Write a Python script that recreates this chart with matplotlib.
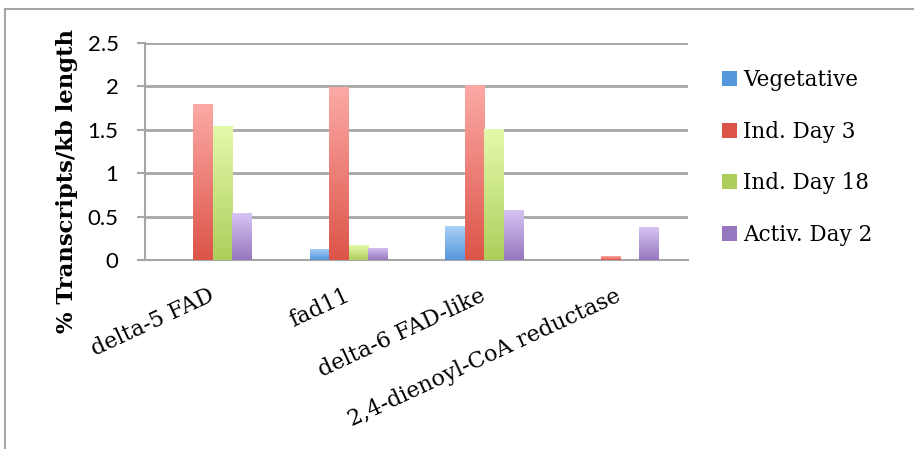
import numpy as np
import matplotlib
matplotlib.use('Agg')
from matplotlib import pyplot as plt
from matplotlib.lines import Line2D
from matplotlib.colors import LinearSegmentedColormap

# transcript levels per gene, one list per condition
genes = ['delta-5 FAD', 'fad11', 'delta-6 FAD-like', '2,4-dienoyl-CoA reductase']
vegetative = [0.005, 0.13, 0.39, 0.005]
ind_day3 = [1.80, 1.99, 2.02, 0.045]
ind_day18 = [1.55, 0.17, 1.51, 0.005]
activ_day2 = [0.54, 0.14, 0.575, 0.38]
series_names = ['Vegetative', 'Ind. Day 3', 'Ind. Day 18', 'Activ. Day 2']
yticks = [0, 0.5, 1, 1.5, 2, 2.5]
ytick_labels = ['0', '0.5', '1', '1.5', '2', '2.5']

# (top, bottom) colours of each bar gradient
shades = [('#a9d0f7', '#5596dc'),
          ('#fcaaa6', '#dc5448'),
          ('#e4faab', '#aece5c'),
          ('#d6c4f2', '#9677bf')]

serif = ['DejaVu Serif']
sans = ['Lato', 'DejaVu Sans']
grey = '#a6a6a6'

fig = plt.figure(figsize=(9.14, 4.49), dpi=100)
ax = fig.add_axes([0.1586, 0.421, 0.594, 0.483])

x = np.arange(len(genes))
w = 0.143
all_series = [vegetative, ind_day3, ind_day18, activ_day2]
for i, vals in enumerate(all_series):
    bars = ax.bar(x + (i - 1.5) * w, vals, w, color=shades[i][1],
                  label=series_names[i], zorder=3, linewidth=0)
    cmap = LinearSegmentedColormap.from_list('g%d' % i, [shades[i][1], shades[i][0]])
    grad = np.linspace(0, 1, 256).reshape(-1, 1)
    for b in bars:
        bx, by = b.get_x(), b.get_y()
        bw, bh = b.get_width(), b.get_height()
        # gradient spans the full bar so short bars keep the dark base
        im = ax.imshow(grad, cmap=cmap, origin='lower', aspect='auto',
                       extent=(bx, bx + bw, by, by + bh), zorder=4,
                       interpolation='bilinear')
        im.set_clip_path(b)

ax.set_xlim(-0.5, 3.5)
ax.set_ylim(0, 2.5)
ax.set_yticks(yticks)
ax.set_yticklabels(ytick_labels, family=sans, fontsize=16)
ax.yaxis.grid(True, color=grey, linewidth=2, zorder=0)
ax.set_axisbelow(True)
for s in ['top', 'right']:
    ax.spines[s].set_visible(False)
for s in ['left', 'bottom']:
    ax.spines[s].set_color(grey)
    ax.spines[s].set_linewidth(1.5)
ax.tick_params(axis='y', length=6, width=1.5, color=grey, pad=13)
ax.tick_params(axis='x', length=0, pad=25)

ax.set_xticks(x)
ax.set_xticklabels(genes, rotation=25, ha='right', va='center',
                   rotation_mode='anchor', family=serif, fontsize=16)

ax.set_ylabel('% Transcripts/kb length', family=serif, fontsize=16.4,
              fontweight='bold')
ax.yaxis.set_label_coords(-0.123, 0.364)

leg = ax.legend(loc='center left', bbox_to_anchor=(1.0626, 0.472), frameon=False,
                prop={'family': serif, 'size': 15.5}, handlelength=0.7,
                handleheight=0.7, handletextpad=0.3, labelspacing=1.38,
                borderpad=0, borderaxespad=0)
for i, h in enumerate(leg.legend_handles):
    h.set_color(shades[i][1])

# thin frame round the chart area
fig.add_artist(Line2D([0.0055, 1.0], [0.98, 0.98], color=grey, lw=1.5))
fig.add_artist(Line2D([0.0055, 0.0055], [0.0, 0.98], color=grey, lw=1.5))

fig.savefig('out.png', dpi=100)
